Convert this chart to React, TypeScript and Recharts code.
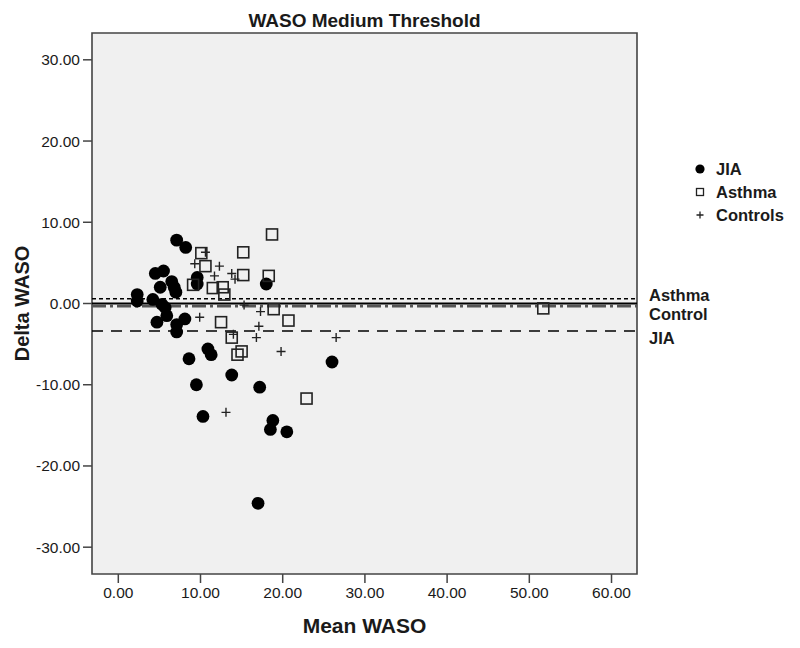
import { Legend, ReferenceArea, ReferenceLine, Scatter, ScatterChart, XAxis, YAxis } from "recharts";

const FONT = "'Liberation Sans', Arial, sans-serif";
const INK = "#1a1a1a";
const FRAME = "#444";

// Mean WASO (x) and Delta WASO (y) for each group.
const JIA_MEAN = [7.1, 8.2, 4.5, 5.5, 5.1, 6.5, 6.8, 7.0, 9.6, 9.6, 2.3, 2.3, 4.2, 5.3, 5.7, 5.9, 4.7, 7.1, 8.1, 7.1, 18.0, 8.6, 10.9, 11.3, 13.8, 9.5, 17.2, 10.3, 18.8, 18.5, 20.5, 26.0, 17.0];
const JIA_DELTA = [7.8, 6.9, 3.7, 4.0, 2.0, 2.7, 2.0, 1.4, 3.2, 2.4, 1.1, 0.3, 0.5, -0.1, -0.5, -1.5, -2.3, -2.6, -1.9, -3.5, 2.4, -6.8, -5.6, -6.3, -8.8, -10.0, -10.3, -13.9, -14.4, -15.5, -15.8, -7.2, -24.6];

const ASTHMA_MEAN = [10.1, 10.6, 9.1, 11.5, 12.7, 12.9, 12.5, 13.8, 15.2, 15.2, 15.0, 14.5, 22.9, 18.7, 18.3, 18.9, 20.7, 51.7];
const ASTHMA_DELTA = [6.2, 4.6, 2.3, 1.9, 2.0, 1.1, -2.3, -4.2, 6.3, 3.5, -5.9, -6.3, -11.7, 8.5, 3.4, -0.7, -2.1, -0.6];

const CONTROL_MEAN = [9.3, 10.6, 12.3, 11.7, 13.8, 14.2, 9.9, 15.3, 17.3, 17.1, 14.0, 16.8, 19.8, 26.5, 13.1];
const CONTROL_DELTA = [4.9, 6.3, 4.6, 3.4, 3.7, 3.0, -1.7, -0.2, -1.0, -2.8, -3.8, -4.2, -5.9, -4.2, -13.4];

// Group mean lines of Delta WASO.
const ASTHMA_LINE = 0.6;
const CONTROL_LINE = -0.3;
const JIA_LINE = -3.4;

const X_DOMAIN: [number, number] = [-3.2, 63.1];
const Y_DOMAIN: [number, number] = [-33.3, 33.3];
const X_TICKS = [0, 10, 20, 30, 40, 50, 60];
const Y_TICKS = [-30, -20, -10, 0, 10, 20, 30];

const TICK_STYLE = { fill: INK, fontSize: 15.5, fontFamily: FONT };

function toPoints(xs: number[], ys: number[]) {
  return xs.map((x, i) => ({ x, y: ys[i] }));
}

function Dot({ cx, cy }: any) {
  return <circle cx={cx} cy={cy} r={6.4} fill="#000" />;
}

function Box({ cx, cy }: any) {
  return <rect x={cx - 5.5} y={cy - 5.5} width={11} height={11} fill="none" stroke="#222" strokeWidth={1.6} />;
}

function Cross({ cx, cy }: any) {
  return <path d={`M${cx - 4.5},${cy}H${cx + 4.5}M${cx},${cy - 4.5}V${cy + 4.5}`} stroke="#222" strokeWidth={1.4} />;
}

/** sideLabel puts a reference line's name just outside the right frame. */
const sideLabel = (text: string, dy: number) => (props: any) => {
  const { viewBox } = props;
  return (
    <text x={viewBox.x + viewBox.width + 12} y={viewBox.y + dy} fontFamily={FONT} fontWeight="bold" fontSize={16.5} fill={INK}>
      {text}
    </text>
  );
};

const titleLabel = (props: any) => {
  const { viewBox } = props;
  return (
    <text x={viewBox.x + viewBox.width / 2} y={viewBox.y - 6} textAnchor="middle" fontFamily={FONT} fontWeight="bold" fontSize={19} fill={INK}>
      WASO Medium Threshold
    </text>
  );
};

const xAxisLabel = (props: any) => {
  const { viewBox } = props;
  return (
    <text x={viewBox.x + viewBox.width / 2} y={viewBox.y + 59} textAnchor="middle" fontFamily={FONT} fontWeight="bold" fontSize={21} fill={INK}>
      Mean WASO
    </text>
  );
};

const yAxisLabel = (props: any) => {
  const { viewBox } = props;
  const cx = viewBox.x + 22;
  const cy = viewBox.y + viewBox.height / 2;
  return (
    <text x={cx} y={cy} transform={`rotate(-90 ${cx} ${cy})`} textAnchor="middle" dominantBaseline="central" fontFamily={FONT} fontWeight="bold" fontSize={20} fill={INK}>
      Delta WASO
    </text>
  );
};

const LEGEND_ITEMS = [
  { label: "JIA", icon: <circle cx={7} cy={7} r={4.6} fill="#000" /> },
  { label: "Asthma", icon: <rect x={3.5} y={3.5} width={7} height={7} fill="none" stroke="#222" strokeWidth={1.3} /> },
  { label: "Controls", icon: <path d="M3.5,7H10.5M7,3.5V10.5" stroke="#222" strokeWidth={1.3} /> },
];

function GroupLegend() {
  return (
    <div style={{ fontFamily: FONT, fontWeight: "bold", fontSize: 16.5, color: INK }}>
      {LEGEND_ITEMS.map((item) => (
        <div key={item.label} style={{ display: "flex", alignItems: "center", height: 23 }}>
          <svg width={14} height={14}>{item.icon}</svg>
          <span style={{ marginLeft: 9 }}>{item.label}</span>
        </div>
      ))}
    </div>
  );
}

export default function App() {
  return (
    <div style={{ position: "absolute", left: 0, top: 0, width: 800, height: 648, background: "#fff" }}>
      <ScatterChart width={800} height={648} margin={{ top: 33, right: 163, bottom: 34, left: 0 }}>
        <ReferenceArea
          x1={X_DOMAIN[0]}
          x2={X_DOMAIN[1]}
          y1={Y_DOMAIN[0]}
          y2={Y_DOMAIN[1]}
          fill="#f0f0f0"
          fillOpacity={1}
          stroke={FRAME}
          strokeWidth={1.6}
          label={titleLabel}
        />
        <XAxis
          type="number"
          dataKey="x"
          domain={X_DOMAIN}
          ticks={X_TICKS}
          allowDataOverflow
          height={40}
          axisLine={false}
          tickSize={9}
          tickMargin={4}
          tickLine={{ stroke: FRAME, strokeWidth: 1.5 }}
          tick={TICK_STYLE}
          tickFormatter={(v: number) => v.toFixed(2)}
          label={xAxisLabel}
        />
        <YAxis
          type="number"
          dataKey="y"
          domain={Y_DOMAIN}
          ticks={Y_TICKS}
          allowDataOverflow
          width={92}
          axisLine={false}
          tickSize={9}
          tickMargin={3}
          tickLine={{ stroke: FRAME, strokeWidth: 1.5 }}
          tick={TICK_STYLE}
          tickFormatter={(v: number) => v.toFixed(2)}
          label={yAxisLabel}
        />
        <Legend
          layout="vertical"
          align="center"
          verticalAlign="middle"
          content={<GroupLegend />}
          wrapperStyle={{ left: 693, top: 157.5, width: 110 }}
        />
        <Scatter name="JIA" data={toPoints(JIA_MEAN, JIA_DELTA)} shape={Dot} isAnimationActive={false} />
        <Scatter name="Asthma" data={toPoints(ASTHMA_MEAN, ASTHMA_DELTA)} shape={Box} isAnimationActive={false} />
        <Scatter name="Controls" data={toPoints(CONTROL_MEAN, CONTROL_DELTA)} shape={Cross} isAnimationActive={false} />
        <ReferenceLine y={0} stroke="#000" strokeWidth={2} />
        <ReferenceLine y={CONTROL_LINE} stroke="#555" strokeWidth={3} strokeDasharray="14 4 3 4" label={sideLabel("Control", 14)} />
        <ReferenceLine y={ASTHMA_LINE} stroke="#000" strokeWidth={1.5} strokeDasharray="4 3" label={sideLabel("Asthma", 2)} />
        <ReferenceLine y={JIA_LINE} stroke="#000" strokeWidth={1.5} strokeDasharray="11 8" label={sideLabel("JIA", 12.5)} />
      </ScatterChart>
    </div>
  );
}
